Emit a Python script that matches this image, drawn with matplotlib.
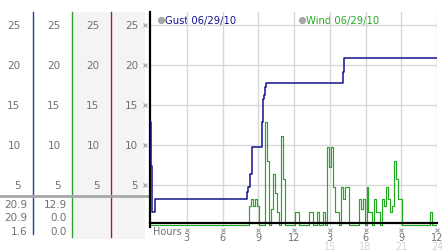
import matplotlib.pyplot as plt
import matplotlib.transforms as mtransforms
import numpy as np

# Gust readings (step changes), hours since midnight
gust_hours = [-0.1, 0.0, 0.08, 0.3, 8.03, 8.17, 8.31, 8.45, 9.29, 9.43,
              9.51, 9.57, 9.63, 16.12, 16.2, 24.0]
gust_vals = [12.9, 7.4, 1.6, 3.2, 4.1, 4.7, 6.4, 9.7, 12.9, 15.7,
             16.2, 17.2, 17.7, 19.1, 20.9, 20.9]

# Wind readings, one every 10 minutes from 0:00 to 24:00
wind_vals = [
    0, 0, 0, 0, 0, 0,            # 0h
    0, 0, 0, 0, 0, 0,            # 1h
    0, 0, 0, 0, 0, 0,            # 2h
    0, 0, 0, 0, 0, 0,            # 3h
    0, 0, 0, 0, 0, 0,            # 4h
    0, 0, 0, 0, 0, 0,            # 5h
    0, 0, 0, 0, 0, 0,            # 6h
    0, 0, 0, 0, 0, 0,            # 7h
    0, 0, 2.4, 3.2, 2.4, 3.2,    # 8h
    2.4, 0, 0, 0, 12.9, 8.0,     # 9h
    0, 2.0, 6.4, 4.0, 1.6, 0,    # 10h
    11.1, 5.7, 0, 0, 0, 0,       # 11h
    0, 1.6, 1.6, 0, 0, 0,        # 12h
    0, 0, 1.6, 1.6, 0, 0,        # 13h
    1.6, 0, 0, 1.6, 0, 9.7,      # 14h
    7.2, 9.7, 4.7, 1.6, 1.6, 0,  # 15h
    4.7, 3.2, 4.7, 4.7, 0, 0,    # 16h
    0, 0, 0, 3.2, 2.0, 3.2,      # 17h
    0, 4.7, 1.6, 1.6, 0, 3.2,    # 18h
    1.6, 1.6, 0, 3.2, 2.4, 4.7,  # 19h
    3.2, 1.6, 2.4, 8.0, 5.7, 3.2,  # 20h
    3.2, 0, 0, 0, 0, 0,          # 21h
    0, 0, 0, 0, 0, 0,            # 22h
    0, 0, 0, 1.6, 0, 0,          # 23h
    0,                           # 24h
]
wind_hours = np.arange(len(wind_vals)) / 6.0

x_ticks = [3, 6, 9, 12, 15, 18, 21, 24]
x_labels = ['3', '6', '9', '12', '3', '6', '9', '12']
x_labels2 = ['', '', '', '', '15', '18', '21', '24']
y_ticks = [5, 10, 15, 20, 25]

gust_now = ['20.9', '20.9', '1.6']
wind_now = ['12.9', '0.0', '0.0']

GUST = '#14148c'
WIND = '#22aa22'
LBL = '#707070'

W, H = 442, 253
fig = plt.figure(figsize=(W / 100, H / 100), dpi=100)

# overlay in pixel coords for the side panel furniture
ov = fig.add_axes([0, 0, 1, 1])
ov.set_xlim(0, W)
ov.set_ylim(H, 0)
ov.axis('off')

# main axes
ax = fig.add_axes([149.5 / W, (H - 228) / H, (437 - 149.5) / W, (228 - 13) / H])
ax.set_xlim(-0.13, 24)
ax.set_ylim(-0.25, 26.6)
ax.patch.set_alpha(0)

for x in x_ticks:
    ax.axvline(x, color='#d8d8d8', lw=1, zorder=0)
for y in y_ticks:
    ax.axhline(y, color='#d8d8d8', lw=1, zorder=0)

ax.plot(wind_hours, wind_vals, drawstyle='steps-mid', color=WIND, lw=0.85, zorder=2)
ax.plot(gust_hours, gust_vals, drawstyle='steps-post', color=GUST, lw=1.1, zorder=3)

ax.spines['top'].set_visible(False)
ax.spines['right'].set_visible(False)
ax.spines['left'].set_linewidth(1.6)
ax.spines['bottom'].set_linewidth(1.6)
ax.spines['bottom'].set_position(('data', 0.2))
ax.spines['bottom'].set_zorder(5)
ax.set_xticks([])
ax.set_yticks([])

# x tick glyphs and labels
bt = mtransforms.blended_transform_factory(ax.transData, ov.transData)
ax.plot(x_ticks, [231] * len(x_ticks), 'x', color='#a0a0a0', ms=3, mew=0.8,
        transform=bt, clip_on=False)
for x, l1, l2 in zip(x_ticks, x_labels, x_labels2):
    ax.text(x, 238.5, l1, transform=bt, ha='center', va='center',
            fontsize=7, color=LBL, clip_on=False)
    if l2:
        ax.text(x, 247.5, l2, transform=bt, ha='center', va='center',
                fontsize=7, color='#d4d4d4', clip_on=False)
ov.text(153, 232, 'Hours', ha='left', va='center', fontsize=7, color=LBL)

# side panel: backgrounds and coloured separators
ov.fill_between([73, 110], 13, 240, color='#f4f4f4', lw=0, zorder=0)
ov.fill_between([112, 145], 13, 240, color='#f4f4f4', lw=0, zorder=0)
ov.plot([33, 33], [13, 235], color='#2040a0', lw=1)
ov.plot([72, 72], [13, 238], color='#30a030', lw=1)
ov.plot([111, 111], [13, 238], color='#a02020', lw=1)
ov.plot([0, 149], [197, 197], color='#a8a8a8', lw=2)

# y labels repeated in every column
by = mtransforms.blended_transform_factory(ov.transData, ax.transData)
for col_x in [20.5, 60.5, 99.5, 138]:
    for y in y_ticks:
        ov.text(col_x, y, str(y), transform=by, ha='right', va='center',
                fontsize=7.5, color=LBL)
ov.plot([145] * len(y_ticks), y_ticks, 'x', color='#a0a0a0', ms=3, mew=0.8,
        transform=by, clip_on=False)

# current readings under the panels
for row_y, g, w in zip([205, 218.5, 232], gust_now, wind_now):
    ov.text(27.5, row_y, g, ha='right', va='center', fontsize=7.5, color=LBL)
    ov.text(67, row_y, w, ha='right', va='center', fontsize=7.5, color=LBL)

# legend
ov.plot([160.5], [20.5], 'o', color='#a8a8a8', ms=4.5, mec='#909090', mew=0.5)
ov.text(165, 20.5, 'Gust 06/29/10', ha='left', va='center', fontsize=7.2, color=GUST)
ov.plot([301.5], [20.5], 'o', color='#a8a8a8', ms=4.5, mec='#909090', mew=0.5)
ov.text(305.5, 20.5, 'Wind 06/29/10', ha='left', va='center', fontsize=7.2, color=WIND)

fig.savefig('out.png', dpi=100)
